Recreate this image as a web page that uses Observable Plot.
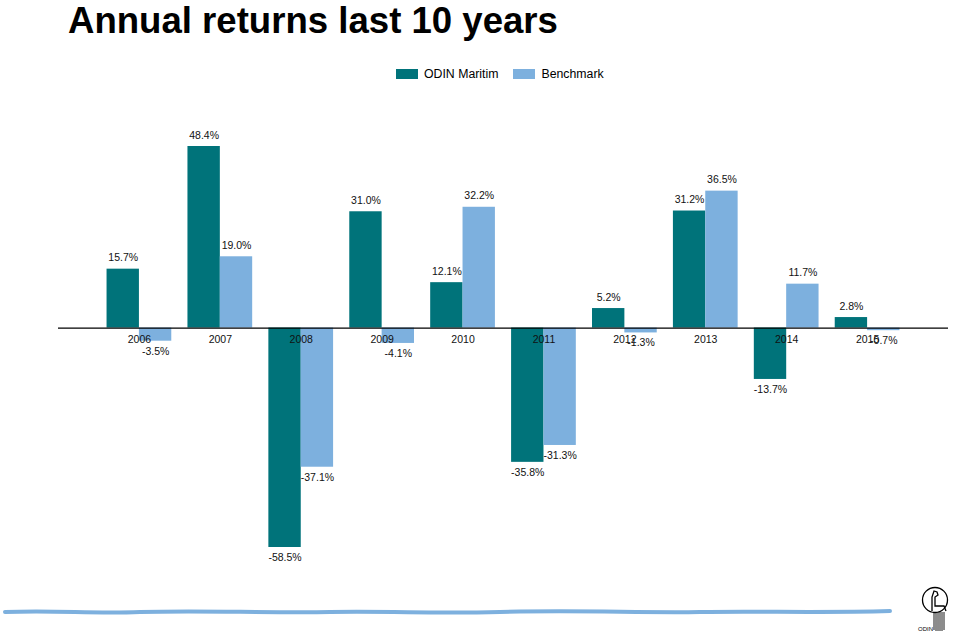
<!DOCTYPE html>
<html>
<head>
<meta charset="utf-8">
<script src="https://cdn.jsdelivr.net/npm/d3@7"></script>
<script src="https://cdn.jsdelivr.net/npm/@observablehq/plot@0.6"></script>
<style>
  html, body { margin: 0; padding: 0; background: #fff; }
  body { position: relative; width: 960px; height: 634px; overflow: hidden; font-family: "Liberation Sans", Arial, sans-serif; }
  #title { position: absolute; left: 68px; top: 0px; font-size: 36.6px; line-height: normal; font-weight: bold; color: #000; white-space: nowrap; }
  #legend { position: absolute; left: 396px; top: 67px; font-size: 12.3px; color: #000; display: flex; align-items: center; white-space: nowrap; }
  #legend .sw { display: inline-block; width: 22px; height: 10px; margin-right: 6px; }
  #legend .item { display: flex; align-items: center; margin-right: 15px; }
  #chart { position: absolute; left: 0; top: 90px; }
  #footer { position: absolute; left: 0; top: 580px; }
</style>
</head>
<body>
<div id="title">Annual returns last 10 years</div>
<div id="legend"></div>
<div id="chart"></div>
<div id="footer"></div>
<script>
const years = ["2006","2007","2008","2009","2010","2011","2012","2013","2014","2015"];
const seriesNames = ["ODIN Maritim", "Benchmark"];
const odinValues = [15.7, 48.4, -58.5, 31.0, 12.1, -35.8, 5.2, 31.2, -13.7, 2.8];
const benchValues = [-3.5, 19.0, -37.1, -4.1, 32.2, -31.3, -1.3, 36.5, 11.7, -0.7];
const colors = ["#00737A", "#7DB0DE"];

// legend
const legend = document.getElementById("legend");
seriesNames.forEach((name, i) => {
  const it = document.createElement("div");
  it.className = "item";
  it.innerHTML = `<span class="sw" style="background:${colors[i]}"></span><span>${name}</span>`;
  legend.appendChild(it);
});

const odin = years.map((y, i) => ({year: y, value: odinValues[i]}));
const bench = years.map((y, i) => ({year: y, value: benchValues[i]}));

const W = 960, H = 544;
const fmt = v => v.toFixed(1) + "%";
const half = 16.2;
const labelFont = {fontSize: 10.5, fill: "#111", fontFamily: "Liberation Sans, Arial, sans-serif"};

const chart = Plot.plot({
  width: W,
  height: H,
  marginLeft: 58,
  marginRight: 12,
  marginTop: 56,
  marginBottom: 87,
  x: {domain: years, paddingInner: 0.2, paddingOuter: 0.6, round: false, axis: null},
  y: {domain: [-58.5, 48.4], axis: null},
  style: {fontFamily: "Liberation Sans, Arial, sans-serif", background: "transparent"},
  marks: [
    Plot.barY(odin, {x: "year", y: "value", fill: colors[0], insetRight: 32.35, insetLeft: 0}),
    Plot.barY(bench, {x: "year", y: "value", fill: colors[1], insetLeft: 32.35, insetRight: 0}),
    Plot.ruleY([0], {stroke: "#000", strokeWidth: 1.2}),
    Plot.text(years, {x: d => d, y: () => 0, text: d => d, dy: 12, lineAnchor: "middle", ...labelFont}),
    Plot.text(odin.filter(d => d.value >= 0), {x: "year", y: "value", text: d => fmt(d.value), dx: -half, dy: -8, lineAnchor: "bottom", ...labelFont}),
    Plot.text(odin.filter(d => d.value < 0), {x: "year", y: "value", text: d => fmt(d.value), dx: -half, dy: 6, lineAnchor: "top", ...labelFont}),
    Plot.text(bench.filter(d => d.value >= 0), {x: "year", y: "value", text: d => fmt(d.value), dx: half, dy: -8, lineAnchor: "bottom", ...labelFont}),
    Plot.text(bench.filter(d => d.value < 0), {x: "year", y: "value", text: d => fmt(d.value), dx: half, dy: 6, lineAnchor: "top", ...labelFont})
  ]
});
document.getElementById("chart").appendChild(chart);

// footer decoration: wavy line and logo (coordinates relative to y=580)
document.getElementById("footer").innerHTML = `
<svg width="960" height="54" xmlns="http://www.w3.org/2000/svg">
  <path d="M5,32 C60,30 90,34 140,32 C200,30 260,33 330,32 C400,31 430,34 500,32 C580,30 640,33 700,32 C760,31 820,33 890,31"
        fill="none" stroke="#7DB0DE" stroke-width="4" stroke-linecap="round"/>
  <circle cx="935" cy="20" r="12.5" fill="none" stroke="#000" stroke-width="1.3"/>
  <path d="M932,31 L932,17 L934,11 L937,12 L938,15 L935,17 L935,26 L944,26 L946,31" fill="none" stroke="#000" stroke-width="1.3"/>
  <g stroke="#000" stroke-width="0.9">
    <line x1="934" y1="32" x2="934" y2="50"/>
    <line x1="936" y1="32" x2="936" y2="51"/>
    <line x1="938" y1="32" x2="938" y2="51"/>
    <line x1="940" y1="32" x2="940" y2="51"/>
    <line x1="942" y1="32" x2="942" y2="51"/>
    <line x1="944" y1="32" x2="944" y2="50"/>
  </g>
  <text x="933" y="51" font-size="6" text-anchor="end" font-family="Liberation Sans, Arial, sans-serif" fill="#000">ODIN</text>
</svg>`;
</script>
</body>
</html>
